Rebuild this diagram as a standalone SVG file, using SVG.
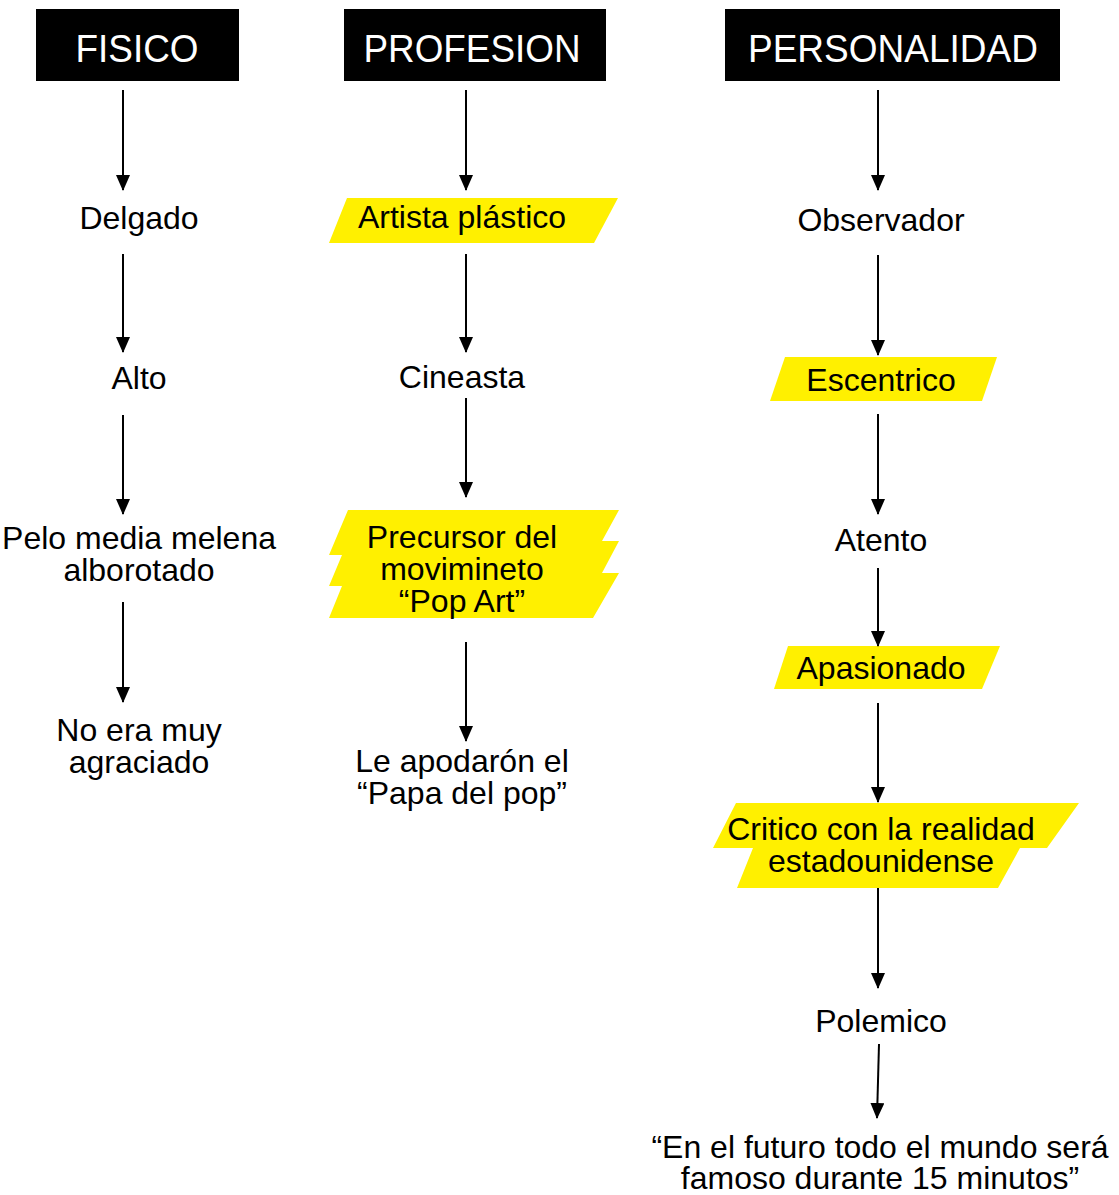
<svg xmlns="http://www.w3.org/2000/svg" width="1119" height="1195" viewBox="0 0 1119 1195">
<defs>
<marker id="ah" markerWidth="16" markerHeight="14" refX="15" refY="7" orient="auto" markerUnits="userSpaceOnUse">
<path d="M0,0 L16,7 L0,14 Z" fill="#000"/>
</marker>
<style>
.hdr{fill:#000}
.ht{font-family:"Liberation Sans",Arial,sans-serif;font-size:38px;fill:#fff;text-anchor:middle}
.t{font-family:"Liberation Sans",Arial,sans-serif;font-size:32px;fill:#000;text-anchor:middle}
.y{fill:#FFF000}
.c{stroke:#000;stroke-width:2;fill:none;marker-end:url(#ah)}
</style>
</defs>
<rect width="1119" height="1195" fill="#fff"/>

<g id="h-fisico"><rect class="hdr" x="36" y="9" width="203" height="72"/><text class="ht" x="137" y="62" textLength="123" lengthAdjust="spacingAndGlyphs">FISICO</text></g>
<g id="h-profesion"><rect class="hdr" x="344" y="9" width="262" height="72"/><text class="ht" x="472" y="62" textLength="217" lengthAdjust="spacingAndGlyphs">PROFESION</text></g>
<g id="h-personalidad"><rect class="hdr" x="725" y="9" width="335" height="72"/><text class="ht" x="893" y="62" textLength="290" lengthAdjust="spacingAndGlyphs">PERSONALIDAD</text></g>

<g id="n-delgado"><text class="t" x="139" y="229">Delgado</text></g>
<g id="n-alto"><text class="t" x="139" y="389">Alto</text></g>
<g id="n-pelo"><text class="t" x="139" y="549">Pelo media melena</text><text class="t" x="139" y="581">alborotado</text></g>
<g id="n-noera"><text class="t" x="139" y="741">No era muy</text><text class="t" x="139" y="773">agraciado</text></g>

<g id="n-artista"><polygon class="y" points="347,198 618,198 594,243 329,243"/><text class="t" x="462" y="228">Artista plástico</text></g>
<g id="n-cineasta"><text class="t" x="462" y="388">Cineasta</text></g>
<g id="n-precursor"><polygon class="y" points="348,510 619,510 602,541 619,541 602,573 619,573 593,618 329,618 342,586 329,586 342,555 329,555"/><text class="t" x="462" y="548">Precursor del</text><text class="t" x="462" y="580">movimineto</text><text class="t" x="462" y="612">“Pop Art”</text></g>
<g id="n-apodaron"><text class="t" x="462" y="772">Le apodarón el</text><text class="t" x="462" y="804">“Papa del pop”</text></g>

<g id="n-observador"><text class="t" x="881" y="231">Observador</text></g>
<g id="n-escentrico"><polygon class="y" points="785,357 997,357 982,401 770,401"/><text class="t" x="881" y="391">Escentrico</text></g>
<g id="n-atento"><text class="t" x="881" y="551">Atento</text></g>
<g id="n-apasionado"><polygon class="y" points="788,646 1000,646 982,689 774,689"/><text class="t" x="881" y="679">Apasionado</text></g>
<g id="n-critico"><polygon class="y" points="736,803 1079,803 1047,848 1020,848 998,888 737,888 753,848 713,848"/><text class="t" x="881" y="840">Critico con la realidad</text><text class="t" x="881" y="872">estadounidense</text></g>
<g id="n-polemico"><text class="t" x="881" y="1032">Polemico</text></g>
<g id="n-futuro"><text class="t" x="880" y="1158">“En el futuro todo el mundo será</text><text class="t" x="880" y="1189">famoso durante 15 minutos”</text></g>

<g id="connectors">
<line class="c" x1="123" y1="90" x2="123" y2="190"/>
<line class="c" x1="123" y1="254" x2="123" y2="352"/>
<line class="c" x1="123" y1="415" x2="123" y2="514"/>
<line class="c" x1="123" y1="602" x2="123" y2="702"/>
<line class="c" x1="466" y1="90" x2="466" y2="190"/>
<line class="c" x1="466" y1="254" x2="466" y2="352"/>
<line class="c" x1="466" y1="398" x2="466" y2="497"/>
<line class="c" x1="466" y1="642" x2="466" y2="741"/>
<line class="c" x1="878" y1="90" x2="878" y2="190"/>
<line class="c" x1="878" y1="255" x2="878" y2="355"/>
<line class="c" x1="878" y1="414" x2="878" y2="514"/>
<line class="c" x1="878" y1="568" x2="878" y2="646"/>
<line class="c" x1="878" y1="703" x2="878" y2="802"/>
<line class="c" x1="878" y1="888" x2="878" y2="988"/>
<line class="c" x1="879" y1="1044" x2="877" y2="1118"/>
</g>
</svg>
